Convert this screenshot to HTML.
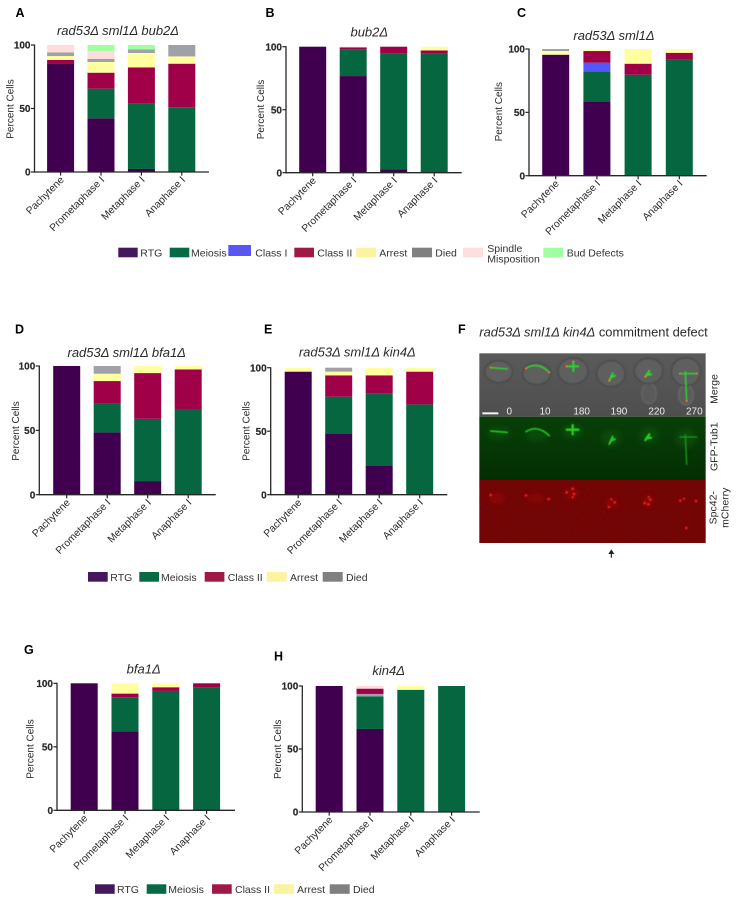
<!DOCTYPE html>
<html lang="en">
<head>
<meta charset="utf-8">
<title>Commitment defect figure</title>
<style>
html,body{margin:0;padding:0;background:#fff;width:736px;height:899px;overflow:hidden}
svg{display:block;filter:blur(0.3px)}
text{font-family:"Liberation Sans",sans-serif;fill:#2a2a2a}
.letter{font-size:12.5px;font-weight:bold;fill:#000}
.title{font-size:13px;font-style:italic;text-anchor:middle}
.leg{font-size:10.5px;fill:#333}
.side{font-size:10.5px;text-anchor:middle}
.time{font-size:30px;fill:#ececec;text-anchor:middle}
</style>
</head>
<body>
<svg id="figure" xmlns="http://www.w3.org/2000/svg" width="736" height="899" viewBox="0 0 736 899">
  <defs>
    <filter id="soft" x="-30%" y="-30%" width="160%" height="160%"><feGaussianBlur stdDeviation="1.6"/></filter>
    <filter id="soft2" x="-30%" y="-30%" width="160%" height="160%"><feGaussianBlur stdDeviation="2.6"/></filter>
    <filter id="glow" x="-100%" y="-100%" width="300%" height="300%"><feGaussianBlur stdDeviation="9"/></filter>
    <filter id="grain" x="0" y="0" width="100%" height="100%"><feTurbulence type="fractalNoise" baseFrequency="0.35" numOctaves="2" seed="4"/><feColorMatrix values="0 0 0 0 0  0 0 0 0 0  0 0 0 0 0  0 0 0 1.4 -0.55"/></filter>
    <linearGradient id="greenBg" x1="0" y1="0" x2="0" y2="1"><stop offset="0" stop-color="#083f08"/><stop offset="0.6" stop-color="#053505"/><stop offset="1" stop-color="#032e03"/></linearGradient>
    <linearGradient id="grayBg" x1="0" y1="0" x2="0" y2="1"><stop offset="0" stop-color="#5a5a5a"/><stop offset="1" stop-color="#4e4e4e"/></linearGradient>
  </defs>

  <text class="letter" x="15.5" y="17">A</text>
  <text class="letter" x="265.5" y="17">B</text>
  <text class="letter" x="517" y="17">C</text>
  <text class="letter" x="15" y="333.5">D</text>
  <text class="letter" x="264" y="333.5">E</text>
  <text class="letter" x="458" y="333.5">F</text>
  <text class="letter" x="24" y="654">G</text>
  <text class="letter" x="274" y="660.5">H</text>

  <text class="title" x="118" y="35">rad53Δ sml1Δ bub2Δ</text>
  <text class="title" x="369.3" y="36.5">bub2Δ</text>
  <text class="title" x="614" y="40">rad53Δ sml1Δ</text>
  <text class="title" x="126.7" y="357">rad53Δ sml1Δ bfa1Δ</text>
  <text class="title" x="357.3" y="356.5">rad53Δ sml1Δ kin4Δ</text>
  <text class="title" x="143.7" y="673.5">bfa1Δ</text>
  <text class="title" x="388.7" y="675">kin4Δ</text>

  <g id="chart-a"></g>
  <g id="chart-b"></g>
  <g id="chart-c"></g>
  <g id="chart-d"></g>
  <g id="chart-e"></g>
  <g id="chart-g"></g>
  <g id="chart-h"></g>

  <g>
    <rect x="118.3" y="247.7" width="19.4" height="9.6" fill="#45175d"/>
    <text class="leg" x="140.3" y="256.3">RTG</text>
    <rect x="169.7" y="247.7" width="19.6" height="9.6" fill="#066a45"/>
    <text class="leg" x="191" y="256.3">Meiosis</text>
    <rect x="228.3" y="245" width="22.7" height="11" fill="#5a55f5"/>
    <text class="leg" x="255.3" y="256.3">Class I</text>
    <rect x="294.3" y="247.7" width="19.7" height="9.6" fill="#a01848"/>
    <text class="leg" x="317.3" y="256.3">Class II</text>
    <rect x="356.3" y="247.7" width="19.7" height="9.6" fill="#faf3a0"/>
    <text class="leg" x="379.3" y="256.3">Arrest</text>
    <rect x="412" y="247.7" width="20" height="9.6" fill="#808080"/>
    <text class="leg" x="435.3" y="256.3">Died</text>
    <rect x="463" y="247.7" width="20" height="9.6" fill="#ffdede"/>
    <text class="leg" x="487.3" y="251.8">Spindle</text>
    <text class="leg" x="487.3" y="262.5">Misposition</text>
    <rect x="543.3" y="247.7" width="20" height="9.6" fill="#a0ffa0"/>
    <text class="leg" x="566.7" y="256.3">Bud Defects</text>
  </g>

  <g>
    <rect x="88" y="572" width="19.7" height="9.7" fill="#45175d"/>
    <text class="leg" x="110.3" y="580.8">RTG</text>
    <rect x="139.3" y="572" width="19.7" height="9.7" fill="#066a45"/>
    <text class="leg" x="161" y="580.8">Meiosis</text>
    <rect x="204.7" y="572" width="19.7" height="9.7" fill="#a01848"/>
    <text class="leg" x="227.7" y="580.8">Class II</text>
    <rect x="266.7" y="572" width="20" height="9.7" fill="#faf3a0"/>
    <text class="leg" x="290" y="580.8">Arrest</text>
    <rect x="322.7" y="572" width="20" height="9.7" fill="#808080"/>
    <text class="leg" x="346" y="580.8">Died</text>
  </g>

  <g>
    <rect x="95" y="884.3" width="19.7" height="9.5" fill="#45175d"/>
    <text class="leg" x="117" y="893">RTG</text>
    <rect x="146.7" y="884.3" width="19.6" height="9.5" fill="#066a45"/>
    <text class="leg" x="168.3" y="893">Meiosis</text>
    <rect x="212" y="884.3" width="19.7" height="9.5" fill="#a01848"/>
    <text class="leg" x="235" y="893">Class II</text>
    <rect x="274" y="884.3" width="20" height="9.5" fill="#faf3a0"/>
    <text class="leg" x="297" y="893">Arrest</text>
    <rect x="329.7" y="884.3" width="20" height="9.5" fill="#808080"/>
    <text class="leg" x="353" y="893">Died</text>
  </g>

  <text x="479.3" y="336.5" style="font-size:12.9px"><tspan font-style="italic">rad53Δ sml1Δ kin4Δ</tspan> commitment defect</text>

  <g transform="translate(450 315) scale(0.33333)">
    <rect x="88" y="115" width="679" height="190" fill="url(#grayBg)"/>
    <rect x="88" y="305" width="679" height="190" fill="url(#greenBg)"/>
    <rect x="88" y="495" width="679" height="189" fill="#7a0606"/>
    <rect x="88" y="495" width="679" height="189" filter="url(#grain)" opacity="0.35"/>

    <g fill="#5f5f5f" stroke="#464646" stroke-width="4" filter="url(#soft2)">
      <ellipse cx="597" cy="236" rx="22" ry="30" fill="#5a5a5a" stroke="#6a6a6a" stroke-width="3"/>
      <ellipse cx="708" cy="240" rx="22" ry="30" fill="#5c5c5c" stroke="#6e6e6e" stroke-width="3"/>
      <ellipse cx="146" cy="170" rx="42" ry="33"/>
      <ellipse cx="260" cy="176" rx="42" ry="33"/>
      <ellipse cx="369" cy="168" rx="45" ry="39"/>
      <ellipse cx="483" cy="176" rx="43" ry="39"/>
      <ellipse cx="596" cy="168" rx="43" ry="38"/>
      <ellipse cx="708" cy="170" rx="44" ry="42"/>
    </g>

    <g fill="none" stroke="#2ad62a" stroke-width="4.5" stroke-linecap="round" filter="url(#soft)">
      <path d="M122 158L172 162"/>
      <path d="M228 160Q262 138 298 172"/>
      <path d="M350 154L385 154M370 140L370 168" stroke-width="6"/>
      <path d="M478 197L488 175M484 187L495 182" stroke-width="6"/>
      <path d="M586 185L598 168M590 180L603 178" stroke-width="6.5"/>
      <path d="M690 176L740 176M706 170L710 258"/>
    </g>
    <g fill="#ff6a2a">
      <circle cx="122" cy="158" r="3"/>
      <circle cx="228" cy="160" r="3"/>
      <circle cx="298" cy="172" r="3"/>
      <circle cx="350" cy="154" r="3"/>
      <circle cx="370" cy="140" r="3"/>
      <circle cx="478" cy="197" r="3"/>
      <circle cx="586" cy="185" r="3"/>
      <circle cx="690" cy="176" r="3"/>
      <circle cx="740" cy="176" r="3"/>
      <circle cx="710" cy="258" r="3"/>
    </g>
    <rect x="97" y="292" width="48" height="6" fill="#f4f4f4"/>
    <text class="time" x="178" y="299">0</text>
    <text class="time" x="285" y="299">10</text>
    <text class="time" x="395" y="299">180</text>
    <text class="time" x="507" y="299">190</text>
    <text class="time" x="620" y="299">220</text>
    <text class="time" x="733" y="299">270</text>

    <g fill="#1a7a1a" opacity="0.25" filter="url(#glow)">
      <ellipse cx="147" cy="355" rx="35" ry="18"/>
      <ellipse cx="260" cy="360" rx="35" ry="20"/>
      <ellipse cx="368" cy="350" rx="32" ry="22"/>
      <ellipse cx="483" cy="370" rx="30" ry="25"/>
      <ellipse cx="597" cy="362" rx="30" ry="25"/>
      <ellipse cx="708" cy="370" rx="32" ry="28"/>
    </g>
    <g fill="none" stroke="#22d022" stroke-width="4.5" stroke-linecap="round" filter="url(#soft)" transform="translate(0 190)">
      <path d="M122 158L172 162"/>
      <path d="M228 160Q262 138 298 172"/>
      <path d="M350 154L385 154M368 140L368 168" stroke-width="7"/>
      <path d="M478 197L488 175M484 187L495 182" stroke-width="6"/>
      <path d="M586 185L598 168M590 180L603 178" stroke-width="7"/>
      <path d="M690 176L740 176M706 170L710 258" stroke="#1c9c1c" stroke-width="4"/>
    </g>

    <g fill="#b01010" opacity="0.35" filter="url(#glow)">
      <ellipse cx="140" cy="550" rx="25" ry="16"/>
      <ellipse cx="258" cy="550" rx="28" ry="12"/>
      <ellipse cx="365" cy="535" rx="22" ry="16"/>
      <ellipse cx="485" cy="565" rx="18" ry="14"/>
      <ellipse cx="594" cy="557" rx="18" ry="14"/>
    </g>
    <g fill="#f81c1c" filter="url(#soft)">
      <circle cx="122" cy="540" r="4"/>
      <circle cx="228" cy="541" r="4"/>
      <circle cx="296" cy="552" r="4"/>
      <circle cx="350" cy="532" r="4"/>
      <circle cx="368" cy="521" r="4"/>
      <circle cx="372" cy="537" r="4"/>
      <circle cx="368" cy="547" r="3.5"/>
      <circle cx="484" cy="553" r="3.5"/>
      <circle cx="494" cy="562" r="4"/>
      <circle cx="477" cy="576" r="4"/>
      <circle cx="596" cy="546" r="3.5"/>
      <circle cx="601" cy="554" r="4"/>
      <circle cx="584" cy="564" r="4"/>
      <circle cx="595" cy="568" r="4"/>
      <circle cx="691" cy="557" r="4"/>
      <circle cx="702" cy="551" r="3.5"/>
      <circle cx="738" cy="558" r="4"/>
      <circle cx="709" cy="639" r="4"/>
    </g>

    <g>
      <path d="M484 710L484 728" stroke="#222" stroke-width="3.5" fill="none"/>
      <path d="M484 703L475 717L493 717Z" fill="#222"/>
    </g>
  </g>

  <text class="side" transform="translate(717.5 389) rotate(-90)">Merge</text>
  <text class="side" transform="translate(717.5 446.7) rotate(-90)">GFP-Tub1</text>
  <text class="side" transform="translate(716.5 507.7) rotate(-90)">Spc42-</text>
  <text class="side" transform="translate(728.5 507.7) rotate(-90)">mCherry</text>
</svg>

<script>
const categories = ["Pachytene", "Prometaphase I", "Metaphase I", "Anaphase I"];
const yTicks = [0, 50, 100];
const yAxisTitle = "Percent Cells";

const aRtg = [85.6, 42.3, 2.4, 0];
const aMeiosis = [0, 23.3, 51.4, 51];
const aClassI = [0, 0, 0, 0];
const aClassII = [2.6, 12.6, 28.6, 34.3];
const aArrest = [3.1, 8.4, 11.3, 5.7];
const aDied = [2.9, 2.4, 2.9, 9];
const aSpindle = [5.8, 6.3, 0, 0];
const aBud = [0, 4.7, 3.4, 0];

const bRtg = [100, 76.7, 2.6, 0];
const bMeiosis = [0, 21.2, 91.8, 94.4];
const bClassII = [0, 1.6, 5.6, 2.6];
const bArrest = [0, 0, 0, 3];
const bSpindle = [0, 0.5, 0, 0];

const cRtg = [95.5, 58.7, 0, 0];
const cMeiosis = [0, 23.7, 79.7, 91.8];
const cClassI = [0, 6.8, 0, 0];
const cClassII = [0, 9.2, 8.7, 5.2];
const cArrest = [2.9, 1.1, 11.6, 3];
const cDied = [1.6, 0, 0, 0];

const dRtg = [100, 48.4, 10.6, 0];
const dMeiosis = [0, 22.8, 48.4, 66.6];
const dClassII = [0, 17.1, 35.5, 30.8];
const dArrest = [0, 5.7, 5.5, 2.6];
const dDied = [0, 6, 0, 0];

const eRtg = [96.9, 48.3, 22.6, 0];
const eMeiosis = [0, 28.9, 57.4, 71.1];
const eClassII = [0, 16.8, 14, 25.8];
const eArrest = [3.1, 2.9, 6, 3.1];
const eDied = [0, 3.1, 0, 0];

const gRtg = [100, 62, 0, 0];
const gMeiosis = [0, 27, 94, 97];
const gClassII = [0, 2.9, 2.9, 3];
const gArrest = [0, 8.1, 3.1, 0];

const hRtg = [100, 65.9, 0, 0];
const hMeiosis = [0, 25.9, 97, 100];
const hDied = [0, 1.9, 0, 0];
const hClassII = [0, 4.2, 0, 0];
const hArrest = [0, 0, 3, 0];
const hSpindle = [0, 2.1, 0, 0];

const seriesColors = {
  rtg: "#40004f", meiosis: "#056640", classI: "#5555ff", classII: "#a00048",
  arrest: "#ffffa0", died: "#a0a0a8", spindle: "#ffdcdc", bud: "#a0ffa0"
};

const charts = [
  { id: "a", left: 34.5, right: 209, top: 45, bottom: 172, first: 60.6, step: 40.4, labelX: 10, labelY: 109,
    stack: [["rtg", aRtg], ["meiosis", aMeiosis], ["classI", aClassI], ["classII", aClassII], ["arrest", aArrest], ["died", aDied], ["spindle", aSpindle], ["bud", aBud]] },
  { id: "b", left: 286, right: 461.7, top: 46.7, bottom: 172.7, first: 312.7, step: 40.5, labelX: 260.7, labelY: 109.5,
    stack: [["rtg", bRtg], ["meiosis", bMeiosis], ["classII", bClassII], ["arrest", bArrest], ["spindle", bSpindle]] },
  { id: "c", left: 529, right: 706.7, top: 49, bottom: 175.7, first: 555.7, step: 41.2, labelX: 498.3, labelY: 111.7,
    stack: [["rtg", cRtg], ["meiosis", cMeiosis], ["classI", cClassI], ["classII", cClassII], ["arrest", cArrest], ["died", cDied]] },
  { id: "d", left: 39.3, right: 215.7, top: 366, bottom: 494.7, first: 66.7, step: 40.5, labelX: 15.7, labelY: 431,
    stack: [["rtg", dRtg], ["meiosis", dMeiosis], ["classII", dClassII], ["arrest", dArrest], ["died", dDied]] },
  { id: "e", left: 270.7, right: 447.3, top: 367.7, bottom: 494.7, first: 298.2, step: 40.5, labelX: 246, labelY: 431,
    stack: [["rtg", eRtg], ["meiosis", eMeiosis], ["classII", eClassII], ["arrest", eArrest], ["died", eDied]] },
  { id: "g", left: 57, right: 235, top: 683.3, bottom: 810.3, first: 84.2, step: 40.8, labelX: 30, labelY: 749,
    stack: [["rtg", gRtg], ["meiosis", gMeiosis], ["classII", gClassII], ["arrest", gArrest]] },
  { id: "h", left: 302.3, right: 479.7, top: 686, bottom: 812, first: 329.2, step: 40.8, labelX: 277.3, labelY: 749.3,
    stack: [["rtg", hRtg], ["meiosis", hMeiosis], ["died", hDied], ["classII", hClassII], ["arrest", hArrest], ["spindle", hSpindle]] }
];

const SVG_NS = "http://www.w3.org/2000/svg";
const BAR_WIDTH = 27;
const AXIS_COLOR = "#262626";

function addLine(parent, x1, y1, x2, y2, width) {
  const line = document.createElementNS(SVG_NS, "line");
  line.setAttribute("x1", x1);
  line.setAttribute("y1", y1);
  line.setAttribute("x2", x2);
  line.setAttribute("y2", y2);
  line.setAttribute("stroke", AXIS_COLOR);
  line.setAttribute("stroke-width", width);
  parent.appendChild(line);
  return line;
}

function drawChart(chart) {
  const group = document.getElementById("chart-" + chart.id);
  const yScale = function (v) {
    return chart.bottom - (v / 100) * (chart.bottom - chart.top);
  };
  const xScale = function (i) {
    return chart.first + i * chart.step;
  };

  categories.forEach(function (category, i) {
    let running = 0;
    chart.stack.forEach(function (entry) {
      const key = entry[0];
      const value = entry[1][i];
      if (value > 0) {
        const rect = document.createElementNS(SVG_NS, "rect");
        
        
        rect.setAttribute("x", xScale(i) - BAR_WIDTH / 2);
        rect.setAttribute("y", yScale(running + value));
        rect.setAttribute("width", BAR_WIDTH);
        rect.setAttribute("height", yScale(running) - yScale(running + value));
        rect.setAttribute("fill", seriesColors[key]);
        group.appendChild(rect);
      }
      running += value;
    });
  });

  const yAxis = addLine(group, chart.left, chart.top - 0.5, chart.left, chart.bottom + 0.5, 1.3);
  
  

  const xAxis = addLine(group, chart.left - 0.6, chart.bottom, chart.right, chart.bottom, 1.3);
  
  

  yTicks.forEach(function (tick) {
    const mark = addLine(group, chart.left - 3.6, yScale(tick), chart.left, yScale(tick), 1.2);
    
    

    const label = document.createElementNS(SVG_NS, "text");
    
    
    label.setAttribute("x", chart.left - 4);
    label.setAttribute("y", yScale(tick) + 3.6);
    label.setAttribute("text-anchor", "end");
    label.setAttribute("font-size", "10");
    label.setAttribute("font-weight", "bold");
    label.setAttribute("stroke", "#2a2a2a");
    label.setAttribute("stroke-width", "0.2");
    label.textContent = String(tick);
    group.appendChild(label);
  });

  categories.forEach(function (category, i) {
    const mark = addLine(group, xScale(i), chart.bottom, xScale(i), chart.bottom + 3.6, 1.2);
    
    

    const label = document.createElementNS(SVG_NS, "text");
    
    
    label.setAttribute("text-anchor", "end");
    label.setAttribute("font-size", "10.3");
    label.setAttribute("transform", "translate(" + (xScale(i) + 4) + " " + (chart.bottom + 8.5) + ") rotate(-45)");
    label.textContent = category;
    group.appendChild(label);
  });

  const title = document.createElementNS(SVG_NS, "text");
  
  
  title.setAttribute("text-anchor", "middle");
  title.setAttribute("font-size", "10");
  title.setAttribute("transform", "translate(" + (chart.labelX + 3.5) + " " + chart.labelY + ") rotate(-90)");
  title.textContent = yAxisTitle;
  group.appendChild(title);
}

charts.forEach(drawChart);
</script>
</body>
</html>
